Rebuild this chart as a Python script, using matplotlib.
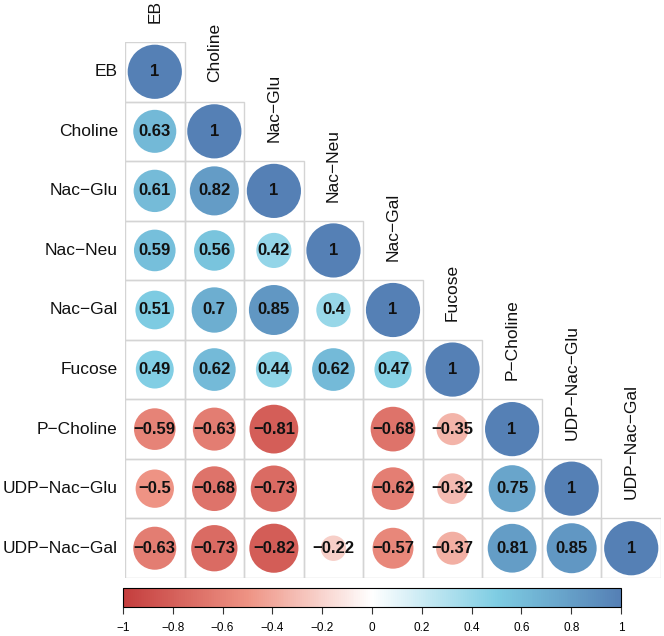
import numpy as np
import matplotlib
matplotlib.use("Agg")
import matplotlib.pyplot as plt
from matplotlib.colors import LinearSegmentedColormap, Normalize
from matplotlib.patches import Circle, Rectangle
from matplotlib.cm import ScalarMappable

plt.rcParams['font.family'] = ['Liberation Sans', 'DejaVu Sans']

labels = ["EB", "Choline", "Nac\u2212Glu", "Nac\u2212Neu", "Nac\u2212Gal", "Fucose",
          "P\u2212Choline", "UDP\u2212Nac\u2212Glu", "UDP\u2212Nac\u2212Gal"]
nan = np.nan
# lower triangle rows (nan = not significant, left blank)
rows = [
    [1],
    [0.63, 1],
    [0.61, 0.82, 1],
    [0.59, 0.56, 0.42, 1],
    [0.51, 0.70, 0.85, 0.40, 1],
    [0.49, 0.62, 0.44, 0.62, 0.47, 1],
    [-0.59, -0.63, -0.81, nan, -0.68, -0.35, 1],
    [-0.50, -0.68, -0.73, nan, -0.62, -0.32, 0.75, 1],
    [-0.63, -0.73, -0.82, -0.22, -0.57, -0.37, 0.81, 0.85, 1],
]
cbar_ticks = [-1, -0.8, -0.6, -0.4, -0.2, 0, 0.2, 0.4, 0.6, 0.8, 1]

cmap = LinearSegmentedColormap.from_list(
    "corr", [(0.0, "#C43E3E"), (0.25, "#EE9384"), (0.5, "#FFFFFF"),
             (0.75, "#7ECDE3"), (1.0, "#5580B5")])
norm = Normalize(-1, 1)


def fmt(v):
    s = f"{v:.2f}".rstrip("0").rstrip(".")
    return s.replace("-", "\u2212")


n = len(labels)
fig = plt.figure(figsize=(6.64, 6.36), dpi=100)
ax = fig.add_axes([125 / 664, 1 - 578 / 636, 536 / 664, 536 / 636])
ax.set_xlim(0, n)
ax.set_ylim(n, 0)
ax.axis("off")

for i, row in enumerate(rows):
    for j, v in enumerate(row):
        ax.add_patch(Rectangle((j, i), 1, 1, facecolor="none",
                               edgecolor="#D4D4D4", lw=1.0, zorder=1))
        if np.isnan(v):
            continue
        r = 0.455 * np.sqrt(abs(v))
        ax.add_patch(Circle((j + 0.5, i + 0.5), r, facecolor=cmap(norm(v)),
                            edgecolor="none", zorder=2))
        ax.text(j + 0.5, i + 0.5, fmt(v), ha="center", va="center",
                fontsize=12, fontweight="bold", color="#111111", zorder=3)

for i, lab in enumerate(labels):
    ax.text(-0.12, i + 0.5, lab, ha="right", va="center", fontsize=12.5,
            color="#111111", clip_on=False)
    ax.text(i + 0.5, i - 0.32, lab, ha="center", va="bottom", rotation=90,
            fontsize=12.5, color="#111111", clip_on=False)

cax = fig.add_axes([123 / 664, 1 - 607 / 636, 498 / 664, 19 / 636])
cb = fig.colorbar(ScalarMappable(norm=norm, cmap=cmap), cax=cax,
                  orientation="horizontal", ticks=cbar_ticks)
cb.ax.set_xticklabels([fmt(t) for t in cbar_ticks])
cb.ax.tick_params(length=5, width=0.8, labelsize=8.5, pad=6, color="#333333")
cb.outline.set_linewidth(0.8)

fig.savefig("out.png", dpi=100)
